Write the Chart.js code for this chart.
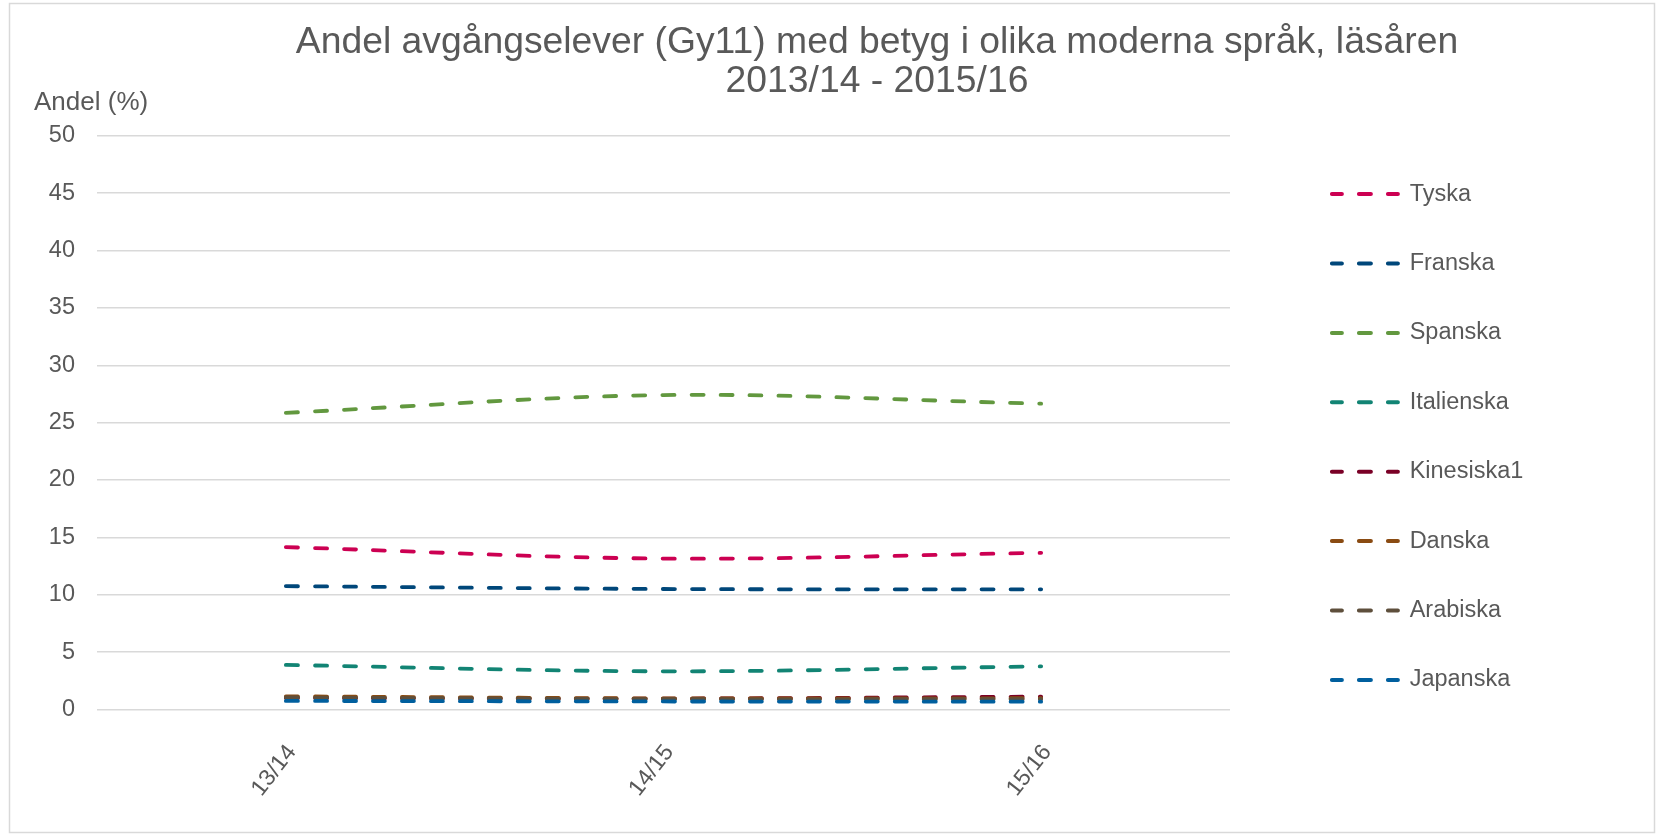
<!DOCTYPE html>
<html>
<head>
<meta charset="utf-8">
<script src="https://cdn.jsdelivr.net/npm/chart.js@4.4.1/dist/chart.umd.min.js"></script>
<style>
  html, body { margin: 0; padding: 0; background: #ffffff; }
  #wrap { width: 1663px; height: 836px; position: relative; }
</style>
</head>
<body>
<div id="wrap"><canvas id="c" width="1663" height="836"></canvas></div>
<script>
// ---- data ----
const categories = ['13/14', '14/15', '15/16'];
const seriesNames = ['Tyska', 'Franska', 'Spanska', 'Italienska', 'Kinesiska1', 'Danska', 'Arabiska', 'Japanska'];
const tyska      = [14.15, 13.15, 13.65];
const franska    = [10.75, 10.5, 10.47];
const spanska    = [25.85, 27.4, 26.65];
const italienska = [3.88, 3.33, 3.76];
const kinesiska  = [1.0, 0.95, 1.12];
const danska     = [1.15, 0.97, 0.98];
const arabiska   = [1.05, 0.9, 0.9];
const japanska   = [0.75, 0.7, 0.68];
const yTicks = [0, 5, 10, 15, 20, 25, 30, 35, 40, 45, 50];
const titleLines = ['Andel avgångselever (Gy11) med betyg i olika moderna språk, läsåren', '2013/14 - 2015/16'];
const yAxisTitle = 'Andel (%)';

const seriesValues = [tyska, franska, spanska, italienska, kinesiska, danska, arabiska, japanska];
const colors = ['#CC0052', '#00477A', '#62983F', '#128474', '#7A0026', '#8A4B12', '#5E4F3C', '#005F9E'];

const FONT = "'Liberation Sans', Arial, sans-serif";
const TXT = '#595959';

const datasets = seriesNames.map((name, i) => ({
  label: name,
  data: seriesValues[i],
  borderColor: colors[i],
  backgroundColor: colors[i],
  borderWidth: 3.8,
  borderDash: [12, 17],
  borderCapStyle: 'round',
  tension: 0.34,
  pointRadius: 0,
  pointHoverRadius: 0,
  pointStyle: 'line',
  fill: false,
  order: seriesNames.length - i
}));

const decor = {
  id: 'decor',
  afterDraw(chart) {
    const ctx = chart.ctx;
    ctx.save();
    ctx.strokeStyle = '#d9d9d9';
    ctx.lineWidth = 1.5;
    ctx.strokeRect(9.5, 3.5, 1645, 829);
    ctx.fillStyle = TXT;
    ctx.textAlign = 'center';
    ctx.textBaseline = 'middle';
    ctx.font = '37.3px ' + FONT;
    ctx.fillText(titleLines[0], 877, 43);
    ctx.fillText(titleLines[1], 877, 82);
    ctx.textAlign = 'left';
    ctx.font = '26px ' + FONT;
    ctx.fillText(yAxisTitle, 34, 103);
    ctx.restore();
  }
};

new Chart(document.getElementById('c'), {
  type: 'line',
  data: { labels: categories, datasets },
  plugins: [decor],
  options: {
    responsive: false,
    animation: false,
    events: [],
    layout: { padding: { top: 38, left: 0, right: 0, bottom: 0 } },
    plugins: {
      title: { display: false },
      tooltip: { enabled: false },
      legend: {
        position: 'right',
        align: 'center',
        labels: {
          usePointStyle: true,
          pointStyleWidth: 66,
          font: { family: FONT, size: 23.5 },
          color: TXT,
          padding: 45.9,
          sort: (a, b) => a.datasetIndex - b.datasetIndex,
          generateLabels(chart) {
            const items = Chart.defaults.plugins.legend.labels.generateLabels(chart);
            items.forEach(it => {
              const ds = chart.data.datasets[it.datasetIndex];
              it.lineDash = ds.borderDash;
              it.lineDashOffset = 2;
              it.lineWidth = 4;
              it.lineCap = 'round';
              it.strokeStyle = ds.borderColor;
              it.fillStyle = ds.borderColor;
              it.pointStyle = 'line';
            });
            return items;
          }
        }
      }
    },
    scales: {
      x: {
        type: 'category',
        offset: true,
        grid: { display: false },
        border: { display: false },
        ticks: {
          font: { family: FONT, size: 23 },
          color: TXT,
          maxRotation: 52,
          minRotation: 52,
          padding: 22,
          labelOffset: 6
        },
        afterFit(s) { s.height = 836 - 709.5; s.paddingRight = 1663 - 1230; }
      },
      y: {
        min: 0,
        max: 50,
        afterBuildTicks(s) { s.ticks = yTicks.map(v => ({ value: v })); },
        grid: { color: '#d9d9d9', lineWidth: 1.4, drawTicks: false },
        border: { display: false },
        ticks: {
          font: { family: FONT, size: 23.5 },
          color: TXT,
          padding: 22
        },
        afterFit(s) { s.width = 97; s.paddingTop = 135.7; }
      },
      gap: {
        type: 'linear',
        position: 'right',
        display: true,
        grid: { display: false },
        border: { display: false },
        ticks: { display: false },
        afterFit(s) { s.width = 56; }
      }
    }
  }
});
</script>
</body>
</html>
